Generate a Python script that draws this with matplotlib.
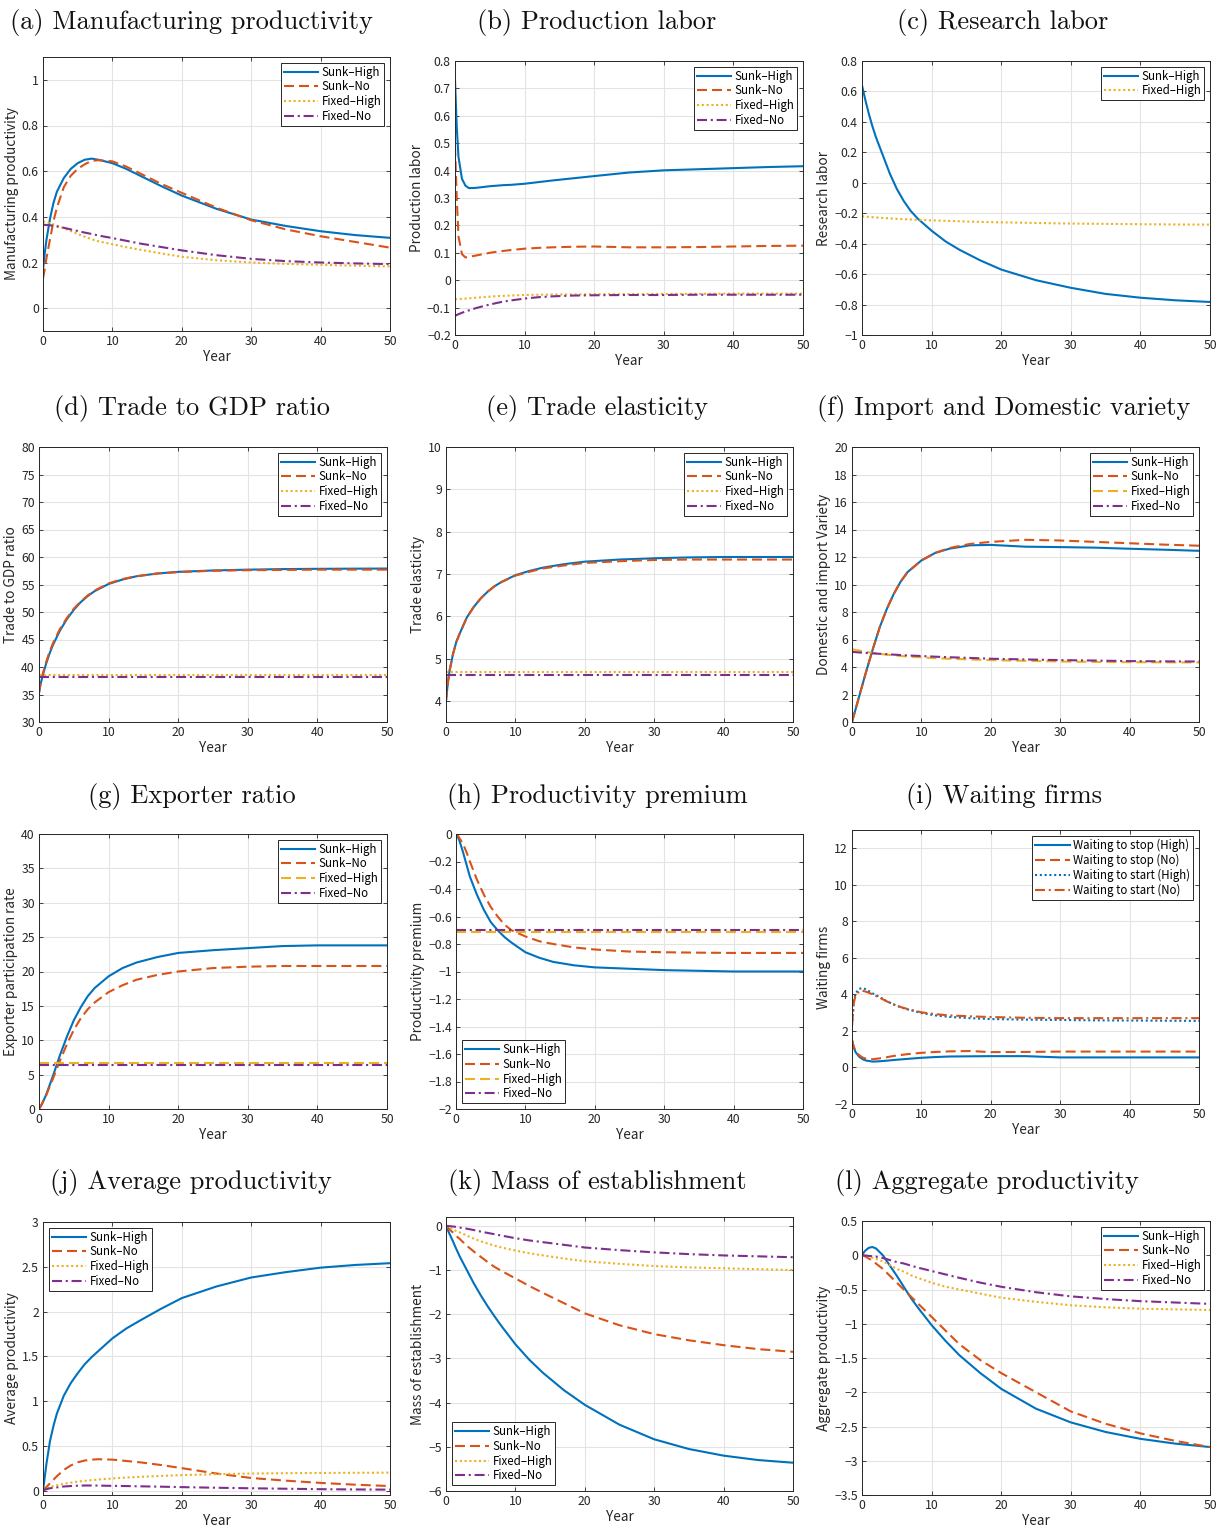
import matplotlib
matplotlib.use("Agg")
import matplotlib.pyplot as plt
import numpy as np
from matplotlib.ticker import FuncFormatter

W, H = 1217, 1530
plt.rcParams['font.family'] = ['Noto Sans CJK JP', 'DejaVu Sans']
plt.rcParams['axes.unicode_minus'] = True

BLUE = "#0072BD"
ORANGE = "#D95319"
YELLOW = "#EDB120"
PURPLE = "#7E2F8E"

YEARS = [0, 0.25, 0.5, 1, 1.5, 2, 3, 4, 5, 6, 7, 8, 10, 12, 14, 17, 20, 25, 30, 35, 40, 45, 50]
N = len(YEARS)

# (a) Manufacturing productivity
MANUF_SH = [0.17, 0.24, 0.30, 0.39, 0.46, 0.51, 0.57, 0.61, 0.635, 0.65, 0.655, 0.65, 0.635, 0.61, 0.58, 0.535, 0.493, 0.435, 0.388, 0.36, 0.337, 0.32, 0.308]
MANUF_SN = [0.13, 0.17, 0.22, 0.30, 0.38, 0.44, 0.53, 0.58, 0.61, 0.63, 0.645, 0.648, 0.643, 0.62, 0.59, 0.545, 0.505, 0.44, 0.385, 0.345, 0.315, 0.29, 0.265]
MANUF_FH = [0.38, 0.378, 0.376, 0.372, 0.367, 0.362, 0.35, 0.338, 0.325, 0.313, 0.302, 0.293, 0.28, 0.267, 0.256, 0.24, 0.225, 0.21, 0.2, 0.194, 0.19, 0.186, 0.183]
MANUF_FN = [0.365, 0.365, 0.364, 0.363, 0.361, 0.358, 0.352, 0.345, 0.338, 0.331, 0.325, 0.318, 0.307, 0.295, 0.283, 0.268, 0.253, 0.232, 0.216, 0.206, 0.2, 0.196, 0.193]

# (b) Production labor
PROD_SH = [0.73, 0.56, 0.45, 0.37, 0.345, 0.336, 0.337, 0.34, 0.343, 0.345, 0.347, 0.348, 0.352, 0.358, 0.364, 0.372, 0.38, 0.393, 0.401, 0.405, 0.409, 0.413, 0.416]
PROD_SN = [0.49, 0.30, 0.16, 0.095, 0.083, 0.085, 0.09, 0.095, 0.1, 0.104, 0.107, 0.11, 0.115, 0.118, 0.12, 0.122, 0.123, 0.12, 0.12, 0.121, 0.123, 0.125, 0.126]
PROD_FH = [-0.07, -0.069, -0.069, -0.068, -0.067, -0.066, -0.064, -0.062, -0.06, -0.058, -0.057, -0.056, -0.054, -0.053, -0.052, -0.052, -0.051, -0.051, -0.05, -0.05, -0.049, -0.049, -0.049]
PROD_FN = [-0.13, -0.127, -0.124, -0.119, -0.114, -0.11, -0.102, -0.095, -0.089, -0.083, -0.078, -0.074, -0.067, -0.062, -0.059, -0.056, -0.055, -0.054, -0.054, -0.053, -0.053, -0.053, -0.053]

# (c) Research labor
RES_SH = [0.64, 0.59, 0.54, 0.45, 0.37, 0.30, 0.18, 0.06, -0.04, -0.12, -0.185, -0.235, -0.315, -0.385, -0.44, -0.51, -0.57, -0.64, -0.69, -0.73, -0.755, -0.772, -0.783]
RES_FH = [-0.22, -0.221, -0.222, -0.224, -0.226, -0.228, -0.231, -0.234, -0.237, -0.239, -0.241, -0.243, -0.247, -0.25, -0.253, -0.257, -0.26, -0.264, -0.268, -0.27, -0.272, -0.274, -0.275]

# (d) Trade to GDP ratio
TGDP_SH = [35.3, 37.0, 38.3, 40.5, 42.4, 44.0, 46.6, 48.7, 50.4, 51.8, 52.9, 53.8, 55.1, 55.9, 56.5, 57.0, 57.3, 57.55, 57.7, 57.8, 57.85, 57.88, 57.9]
TGDP_SN = [35.3, 37.2, 38.6, 40.8, 42.7, 44.3, 46.9, 48.9, 50.6, 51.9, 53.0, 53.9, 55.2, 56.0, 56.5, 57.0, 57.25, 57.5, 57.6, 57.65, 57.7, 57.7, 57.7]
TGDP_FH = [38.6] * N
TGDP_FN = [38.2] * N

# (e) Trade elasticity
TEL_SH = [4.0, 4.4, 4.7, 5.1, 5.4, 5.6, 5.97, 6.22, 6.42, 6.58, 6.71, 6.81, 6.97, 7.07, 7.15, 7.23, 7.29, 7.34, 7.37, 7.39, 7.4, 7.4, 7.4]
TEL_SN = [4.0, 4.4, 4.7, 5.1, 5.4, 5.6, 5.97, 6.22, 6.42, 6.58, 6.71, 6.81, 6.96, 7.05, 7.13, 7.2, 7.26, 7.3, 7.33, 7.34, 7.34, 7.34, 7.34]
TEL_FH = [4.68] * N
TEL_FN = [4.62] * N

# (f) Import and domestic variety
VAR_SH = [0, 0.45, 0.9, 1.8, 2.7, 3.6, 5.3, 6.9, 8.2, 9.3, 10.2, 10.9, 11.75, 12.3, 12.6, 12.85, 12.88, 12.75, 12.72, 12.68, 12.6, 12.53, 12.45]
VAR_SN = [0, 0.45, 0.9, 1.8, 2.7, 3.6, 5.3, 6.9, 8.2, 9.3, 10.2, 10.9, 11.75, 12.3, 12.65, 12.95, 13.1, 13.25, 13.2, 13.1, 13.0, 12.9, 12.82]
VAR_FH = [5.3, 5.27, 5.24, 5.2, 5.15, 5.1, 5.02, 4.95, 4.9, 4.85, 4.8, 4.76, 4.7, 4.64, 4.6, 4.55, 4.5, 4.45, 4.4, 4.37, 4.35, 4.34, 4.33]
VAR_FN = [5.1, 5.09, 5.08, 5.06, 5.04, 5.02, 4.99, 4.96, 4.93, 4.9, 4.87, 4.84, 4.8, 4.75, 4.71, 4.66, 4.6, 4.55, 4.5, 4.47, 4.43, 4.41, 4.4]

# (g) Exporter ratio
EXP_SH = [0, 0.4, 0.9, 2.0, 3.4, 4.8, 7.8, 10.5, 12.9, 14.8, 16.4, 17.6, 19.3, 20.5, 21.3, 22.1, 22.7, 23.1, 23.4, 23.7, 23.8, 23.8, 23.8]
EXP_SN = [0, 0.4, 0.9, 1.9, 3.2, 4.4, 7.0, 9.4, 11.5, 13.2, 14.5, 15.5, 17.0, 18.0, 18.8, 19.5, 20.0, 20.5, 20.7, 20.8, 20.8, 20.8, 20.8]
EXP_FH = [6.7] * N
EXP_FN = [6.4] * N

# (h) Productivity premium
PREM_SH = [0, -0.02, -0.05, -0.13, -0.22, -0.31, -0.44, -0.55, -0.64, -0.7, -0.75, -0.79, -0.86, -0.9, -0.93, -0.955, -0.97, -0.98, -0.99, -0.995, -1.0, -1.0, -1.0]
PREM_SN = [0, -0.01, -0.03, -0.07, -0.13, -0.2, -0.33, -0.44, -0.53, -0.6, -0.66, -0.7, -0.745, -0.78, -0.8, -0.825, -0.84, -0.855, -0.86, -0.863, -0.865, -0.865, -0.865]
PREM_FH = [-0.71] * N
PREM_FN = [-0.70] * N

# (i) Waiting firms
WAIT_STOP_H = [1.5, 1.1, 0.85, 0.6, 0.46, 0.38, 0.32, 0.34, 0.37, 0.41, 0.44, 0.47, 0.53, 0.57, 0.6, 0.61, 0.62, 0.62, 0.55, 0.55, 0.55, 0.55, 0.55]
WAIT_STOP_N = [1.5, 1.15, 0.9, 0.68, 0.55, 0.48, 0.45, 0.5, 0.56, 0.63, 0.68, 0.73, 0.8, 0.85, 0.88, 0.9, 0.84, 0.85, 0.87, 0.87, 0.87, 0.87, 0.87]
WAIT_START_H = [2.3, 3.6, 4.05, 4.3, 4.35, 4.28, 4.05, 3.85, 3.63, 3.45, 3.3, 3.18, 2.98, 2.85, 2.77, 2.7, 2.65, 2.62, 2.6, 2.58, 2.57, 2.56, 2.55]
WAIT_START_N = [2.3, 3.5, 3.95, 4.15, 4.2, 4.15, 4.0, 3.82, 3.62, 3.45, 3.31, 3.2, 3.02, 2.92, 2.85, 2.8, 2.76, 2.72, 2.7, 2.7, 2.7, 2.7, 2.7]

# (j) Average productivity
AVG_SH = [0, 0.15, 0.3, 0.55, 0.72, 0.86, 1.06, 1.2, 1.31, 1.41, 1.49, 1.56, 1.7, 1.81, 1.9, 2.03, 2.15, 2.28, 2.38, 2.44, 2.49, 2.52, 2.54]
AVG_SN = [0, 0.02, 0.04, 0.08, 0.12, 0.16, 0.23, 0.28, 0.315, 0.335, 0.345, 0.35, 0.345, 0.33, 0.315, 0.285, 0.25, 0.19, 0.14, 0.11, 0.085, 0.065, 0.05]
AVG_FH = [0, 0.015, 0.025, 0.04, 0.05, 0.06, 0.075, 0.088, 0.1, 0.108, 0.116, 0.123, 0.135, 0.145, 0.153, 0.163, 0.172, 0.183, 0.19, 0.194, 0.196, 0.198, 0.2]
AVG_FN = [0, 0.008, 0.015, 0.025, 0.03, 0.035, 0.045, 0.05, 0.054, 0.056, 0.056, 0.055, 0.052, 0.05, 0.047, 0.043, 0.038, 0.031, 0.025, 0.02, 0.015, 0.012, 0.01]

# (k) Mass of establishment
MASS_SH = [0, -0.09, -0.18, -0.35, -0.53, -0.7, -1.0, -1.3, -1.57, -1.82, -2.05, -2.27, -2.68, -3.03, -3.33, -3.72, -4.05, -4.5, -4.83, -5.05, -5.2, -5.3, -5.36]
MASS_SN = [0, -0.04, -0.08, -0.15, -0.23, -0.3, -0.45, -0.58, -0.7, -0.82, -0.93, -1.02, -1.19, -1.36, -1.52, -1.75, -1.98, -2.25, -2.45, -2.59, -2.7, -2.79, -2.85]
MASS_FH = [0, -0.02, -0.04, -0.08, -0.12, -0.15, -0.22, -0.29, -0.35, -0.4, -0.45, -0.49, -0.56, -0.62, -0.67, -0.74, -0.8, -0.86, -0.91, -0.94, -0.96, -0.98, -1.0]
MASS_FN = [0, -0.003, -0.007, -0.015, -0.025, -0.04, -0.065, -0.095, -0.13, -0.16, -0.19, -0.22, -0.28, -0.33, -0.37, -0.43, -0.49, -0.55, -0.6, -0.64, -0.67, -0.69, -0.71]

# (l) Aggregate productivity
AGG_SH = [0, 0.04, 0.07, 0.11, 0.12, 0.1, 0.0, -0.15, -0.3, -0.46, -0.62, -0.76, -1.02, -1.25, -1.46, -1.72, -1.95, -2.24, -2.44, -2.58, -2.68, -2.75, -2.8]
AGG_SN = [0, -0.01, -0.02, -0.05, -0.08, -0.12, -0.2, -0.3, -0.4, -0.5, -0.6, -0.7, -0.9, -1.1, -1.3, -1.53, -1.72, -2.0, -2.28, -2.46, -2.6, -2.71, -2.8]
AGG_FH = [0, -0.005, -0.01, -0.02, -0.035, -0.05, -0.09, -0.14, -0.2, -0.24, -0.29, -0.33, -0.4, -0.46, -0.5, -0.56, -0.62, -0.68, -0.73, -0.76, -0.78, -0.79, -0.8]
AGG_FN = [0, -0.002, -0.004, -0.01, -0.015, -0.02, -0.04, -0.07, -0.1, -0.12, -0.15, -0.18, -0.23, -0.28, -0.33, -0.4, -0.46, -0.54, -0.6, -0.64, -0.67, -0.69, -0.71]

SOLID = "-"
DASH = (0, (4.8, 2.4))
DOT = (0, (1, 1.3))
DASHDOT = (0, (4.8, 1.8, 1, 1.8))

SH = ("Sunk\u2013High", BLUE, SOLID)
SN = ("Sunk\u2013No", ORANGE, DASH)
FH = ("Fixed\u2013High", YELLOW, DOT)
FHD = ("Fixed\u2013High", YELLOW, DASH)
FN = ("Fixed\u2013No", PURPLE, DASHDOT)

# (box px: left, top, right, bottom), title, title centre px, ylabel, ylim, yticks, series, legend loc
PANELS = [
    ((43, 57, 390, 331), "(a) Manufacturing productivity", (191, 22), "Manufacturing productivity",
     (-0.1, 1.1), np.arange(0, 1.01, 0.2), [(SH, MANUF_SH), (SN, MANUF_SN), (FH, MANUF_FH), (FN, MANUF_FN)], "upper right"),
    ((455, 61, 803, 335), "(b) Production labor", (597, 22), "Production labor",
     (-0.2, 0.8), np.arange(-0.2, 0.81, 0.1), [(SH, PROD_SH), (SN, PROD_SN), (FH, PROD_FH), (FN, PROD_FN)], "upper right"),
    ((862, 61, 1210, 335), "(c) Research labor", (1003, 22), "Research labor",
     (-1, 0.8), np.arange(-1, 0.81, 0.2), [(SH, RES_SH), (FH, RES_FH)], "upper right"),
    ((39, 447, 387, 722), "(d) Trade to GDP ratio", (192, 409), "Trade to GDP ratio",
     (30, 80), np.arange(30, 81, 5), [(SH, TGDP_SH), (SN, TGDP_SN), (FH, TGDP_FH), (FN, TGDP_FN)], "upper right"),
    ((446, 447, 793, 722), "(e) Trade elasticity", (597, 409), "Trade elasticity",
     (3.5, 10), np.arange(4, 10.1, 1), [(SH, TEL_SH), (SN, TEL_SN), (FH, TEL_FH), (FN, TEL_FN)], "upper right"),
    ((852, 447, 1199, 722), "(f) Import and Domestic variety", (1004, 409), "Domestic and import Variety",
     (0, 20), np.arange(0, 20.1, 2), [(SH, VAR_SH), (SN, VAR_SN), (FHD, VAR_FH), (FN, VAR_FN)], "upper right"),
    ((39, 834, 387, 1109), "(g) Exporter ratio", (192, 796), "Exporter participation rate",
     (0, 40), np.arange(0, 40.1, 5), [(SH, EXP_SH), (SN, EXP_SN), (FHD, EXP_FH), (FN, EXP_FN)], "upper right"),
    ((456, 834, 803, 1109), "(h) Productivity premium", (597, 796), "Productivity premium",
     (-2, 0), np.arange(-2, 0.01, 0.2), [(SH, PREM_SH), (SN, PREM_SN), (FHD, PREM_FH), (FN, PREM_FN)], "lower left"),
    ((852, 830, 1199, 1104), "(i) Waiting firms", (1004, 796), "Waiting firms",
     (-2, 13), np.arange(-2, 12.1, 2),
     [(("Waiting to stop (High)", BLUE, SOLID), WAIT_STOP_H), (("Waiting to stop (No)", ORANGE, DASH), WAIT_STOP_N),
      (("Waiting to start (High)", BLUE, DOT), WAIT_START_H), (("Waiting to start (No)", ORANGE, DASHDOT), WAIT_START_N)],
     "upper right"),
    ((43, 1222, 390, 1495), "(j) Average productivity", (191, 1183), "Average productivity",
     (-0.05, 3), np.arange(0, 3.01, 0.5), [(SH, AVG_SH), (SN, AVG_SN), (FH, AVG_FH), (FN, AVG_FN)], "upper left"),
    ((446, 1217, 793, 1491), "(k) Mass of establishment", (597, 1183), "Mass of establishment",
     (-6, 0.2), np.arange(-6, 0.1, 1), [(SH, MASS_SH), (SN, MASS_SN), (FH, MASS_FH), (FN, MASS_FN)], "lower left"),
    ((862, 1221, 1210, 1495), "(l) Aggregate productivity", (987, 1183), "Aggregate productivity",
     (-3.5, 0.5), np.arange(-3.5, 0.51, 0.5), [(SH, AGG_SH), (SN, AGG_SN), (FH, AGG_FH), (FN, AGG_FN)], "upper right"),
]

AX_COLOR = "#262626"


def fmt(v, _pos):
    s = "%g" % round(v, 6)
    if s == "-0":
        s = "0"
    return s.replace("-", "\u2212")


fig = plt.figure(figsize=(W / 100, H / 100), dpi=100)

for box, title, tpos, ylabel, ylim, yticks, series, loc in PANELS:
    l, t, r, b = box
    ax = fig.add_axes([l / W, 1 - b / H, (r - l) / W, (b - t) / H])
    for (label, color, ls), ys in series:
        ax.plot(YEARS, ys, color=color, linestyle=ls, lw=1.5, label=label)
    ax.set_xlim(0, 50)
    ax.set_ylim(*ylim)
    ax.set_xticks(np.arange(0, 51, 10))
    ax.set_yticks(yticks)
    ax.xaxis.set_major_formatter(FuncFormatter(fmt))
    ax.yaxis.set_major_formatter(FuncFormatter(fmt))
    ax.grid(True, color="#e3e3e3", lw=0.8)
    ax.set_axisbelow(True)
    ax.tick_params(direction="in", length=3, width=0.6, top=True, right=True,
                   labelsize=8.8, colors=AX_COLOR, pad=3)
    for sp in ax.spines.values():
        sp.set_color(AX_COLOR)
        sp.set_linewidth(0.7)
    ax.set_xlabel("Year", fontsize=9.8, color=AX_COLOR, labelpad=1)
    ax.set_ylabel(ylabel, fontsize=9.8, color=AX_COLOR, labelpad=2)
    leg = ax.legend(loc=loc, fontsize=8.3, handlelength=3.0, handletextpad=0.3,
                    labelspacing=0.15, borderpad=0.25, borderaxespad=0.5,
                    fancybox=False, framealpha=1)
    leg.get_frame().set_edgecolor(AX_COLOR)
    leg.get_frame().set_linewidth(0.7)
    fig.text(tpos[0] / W, 1 - tpos[1] / H, title, ha="center", va="center",
             fontsize=19, family="cmr10", color="#111111")

fig.savefig("out.png", dpi=100)
